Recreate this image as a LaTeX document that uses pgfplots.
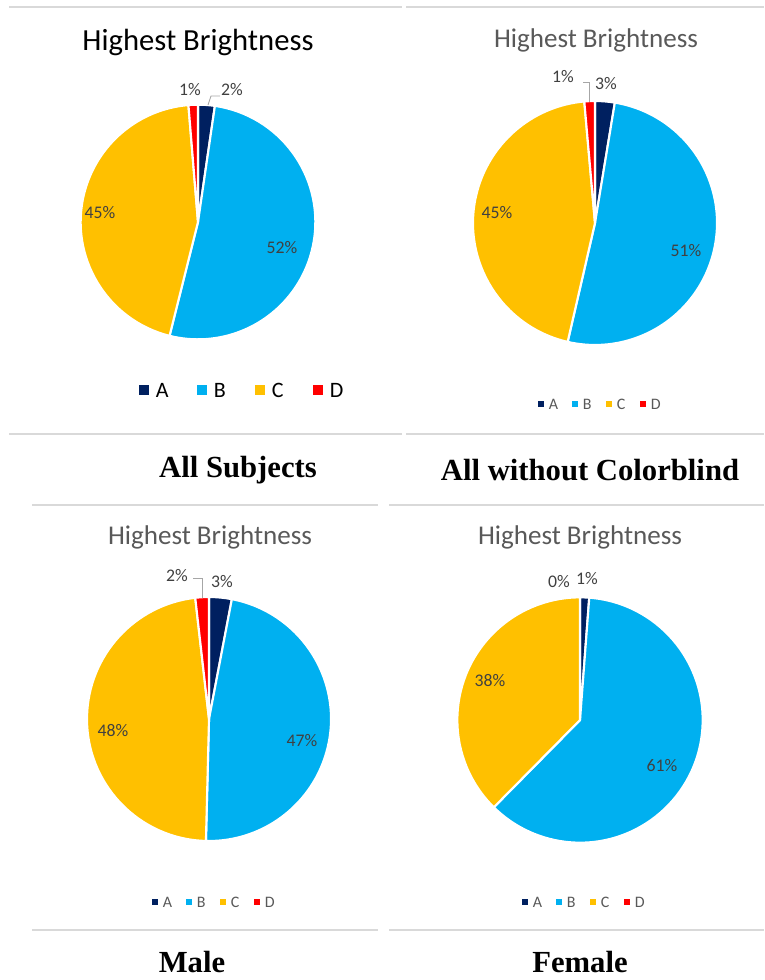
\documentclass[border=0pt]{standalone}
\usepackage{pgfplots}
\pgfplotsset{compat=1.18}
\usepackage{pgfplotstable}
\usepackage{fontspec}
\setmainfont{Carlito}
\newfontfamily\timesb{Liberation Serif}
\usetikzlibrary{calc}
\definecolor{cA}{HTML}{002060}
\definecolor{cB}{HTML}{00B0F0}
\definecolor{cC}{HTML}{FFC000}
\definecolor{cD}{HTML}{FF0000}
\definecolor{txt}{HTML}{404040}
\definecolor{ttl}{HTML}{595959}
\definecolor{sep}{HTML}{D9D9D9}

% values in percent, A B C D (clockwise from 12 o'clock)
\pgfplotstableread{
cat val
A 2.3
B 51.6
C 44.8
D 1.3
}\pieAll
\pgfplotstableread{
cat val
A 2.6
B 51.0
C 45.0
D 1.4
}\pieNoCB
\pgfplotstableread{
cat val
A 3.0
B 47.4
C 47.8
D 1.8
}\pieMale
\pgfplotstableread{
cat val
A 1.2
B 61.2
C 37.6
D 0.0
}\pieFemale

\newcommand\slice[4]{\filldraw[fill=#4,draw=white,line width=1.6pt,line join=round] (0pt,0pt) -- (#1:#3) arc[start angle=#1,end angle=#2,radius=#3] -- cycle;}
\newcommand\drawpie[4]{%
 \pgfplotstablegetelem{0}{val}\of{#1}\edef\va{\pgfplotsretval}%
 \pgfplotstablegetelem{1}{val}\of{#1}\edef\vb{\pgfplotsretval}%
 \pgfplotstablegetelem{2}{val}\of{#1}\edef\vc{\pgfplotsretval}%
 \pgfplotstablegetelem{3}{val}\of{#1}\edef\vd{\pgfplotsretval}%
 \pgfmathsetmacro\aB{90-3.6*\va}%
 \pgfmathsetmacro\aC{\aB-3.6*\vb}%
 \pgfmathsetmacro\aD{\aC-3.6*\vc}%
 \pgfmathsetmacro\aE{\aD-3.6*\vd}%
 \begin{scope}[shift={(axis cs:#2,#3)}]
  \slice{90}{\aB}{#4}{cA}
  \slice{\aB}{\aC}{#4}{cB}
  \slice{\aC}{\aD}{#4}{cC}
  \slice{\aD}{\aE}{#4}{cD}
 \end{scope}}

% legend: x of first square, y, spacing, square size, font size, text colour, gap
\newcommand\pielegend[7]{%
 \foreach \c/\n [count=\k from 0] in {cA/A,cB/B,cC/C,cD/D}{%
  \pgfmathsetmacro\xx{#1+\k*#3}%
  \fill[\c] ($(axis cs:\xx,#2)+(0pt,-#4/2)$) rectangle ++(#4,#4);
  \node[anchor=west,inner sep=0pt,text=#6,font=\fontsize{#5}{#5}\selectfont] at ($(axis cs:\xx,#2)+(#4+#7,0pt)$) {\n};
 }}

\begin{document}
\begin{tikzpicture}
\begin{axis}[width=573pt,height=735pt,scale only axis,
  xmin=0,xmax=764,ymin=0,ymax=980,y dir=reverse,hide axis,clip=false]
\pgfplotsextra{%
 % separator lines
 \draw[sep,line width=1.5pt] (axis cs:9,7.5) -- (axis cs:402,7.5);
 \draw[sep,line width=1.5pt] (axis cs:406,7.5) -- (axis cs:764,7.5);
 \draw[sep,line width=1.5pt] (axis cs:9,434) -- (axis cs:402,434);
 \draw[sep,line width=1.5pt] (axis cs:406,434) -- (axis cs:764,434);
 \draw[sep,line width=1.5pt] (axis cs:32,505) -- (axis cs:378,505);
 \draw[sep,line width=1.5pt] (axis cs:389,505) -- (axis cs:764,505);
 \draw[sep,line width=1.5pt] (axis cs:32,930) -- (axis cs:378,930);
 \draw[sep,line width=1.5pt] (axis cs:389,930) -- (axis cs:764,930);
 % pies
 \drawpie{\pieAll}{198}{222}{88pt}
 \drawpie{\pieNoCB}{595}{223}{91.5pt}
 \drawpie{\pieMale}{209}{719}{91.5pt}
 \drawpie{\pieFemale}{580}{720}{92pt}
 % leader lines
 \draw[gray!70,line width=0.6pt] (axis cs:208,105) -- (axis cs:211,96) -- (axis cs:220,96);
 \draw[gray!70,line width=0.6pt] (axis cs:589,102) -- (axis cs:589,82) -- (axis cs:583,82);
 \draw[gray!70,line width=0.6pt] (axis cs:202,598) -- (axis cs:202,578) -- (axis cs:193,578);
 % legends
 \pielegend{139}{390}{58}{7.5pt}{16.5}{black}{5pt}
 \pielegend{538}{404}{34}{4.5pt}{12}{ttl}{3.5pt}
 \pielegend{152}{902}{34}{4.5pt}{12}{ttl}{3.5pt}
 \pielegend{522}{902}{34}{4.5pt}{12}{ttl}{3.5pt}
}
% titles
\node[font=\fontsize{23}{23}\selectfont,text=black] at (axis cs:198,42) {Highest Brightness};
\node[font=\fontsize{20.3}{20.3}\selectfont,text=ttl] at (axis cs:596,40) {Highest Brightness};
\node[font=\fontsize{20.3}{20.3}\selectfont,text=ttl] at (axis cs:210,537) {Highest Brightness};
\node[font=\fontsize{20.3}{20.3}\selectfont,text=ttl] at (axis cs:580,537) {Highest Brightness};
% data labels
\begin{scope}[every node/.style={font=\fontsize{13.3}{13.3}\selectfont,text=txt,inner sep=0pt}]
\node at (axis cs:282,248) {52\%};
\node at (axis cs:100,213) {45\%};
\node at (axis cs:232,90) {2\%};
\node at (axis cs:190,90) {1\%};
\node at (axis cs:686,251) {51\%};
\node at (axis cs:497,213) {45\%};
\node at (axis cs:606,84) {3\%};
\node at (axis cs:563,77) {1\%};
\node at (axis cs:302,741) {47\%};
\node at (axis cs:113,731) {48\%};
\node at (axis cs:222,582) {3\%};
\node at (axis cs:177,576) {2\%};
\node at (axis cs:662,766) {61\%};
\node at (axis cs:490,681) {38\%};
\node at (axis cs:587,579) {1\%};
\node at (axis cs:559,582) {0\%};
\end{scope}
% panel captions
\node[font=\timesb\bfseries\fontsize{23}{23}\selectfont] at (axis cs:238,470) {All Subjects};
\node[font=\timesb\bfseries\fontsize{23}{23}\selectfont] at (axis cs:590,470) {All without Colorblind};
\node[font=\timesb\bfseries\fontsize{23}{23}\selectfont] at (axis cs:192,962) {Male};
\node[font=\timesb\bfseries\fontsize{23}{23}\selectfont] at (axis cs:580,962) {Female};
\end{axis}
\pgfresetboundingbox
\path (0,0) rectangle (573pt,735pt);
\end{tikzpicture}
\end{document}
